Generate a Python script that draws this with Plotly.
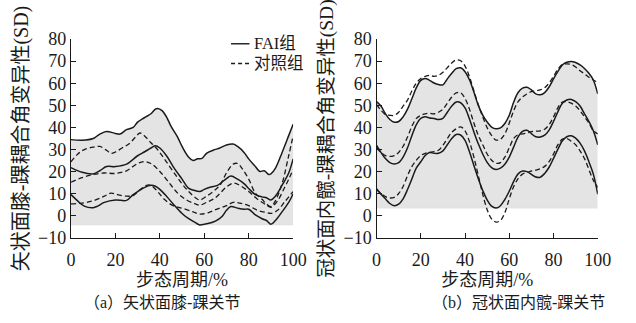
import plotly.graph_objects as go

# ---- (a) sagittal knee-ankle coupling angle variability ----
a_fai_up_x = [0, 5, 10, 13, 16, 20, 22, 25, 28, 30, 33, 36, 38, 39, 41, 43, 45, 48, 50, 53, 55, 57, 59,
              61, 64, 67, 70, 73, 75, 78, 80, 83, 85, 87, 89, 90, 92, 95, 98, 100]
a_fai_up_y = [34.5, 34.2, 35, 37, 38.2, 37.3, 37, 39, 40, 42.4, 44.4, 46.2, 48.3, 48.6, 47.6, 44.8, 40.6,
              35.6, 31.4, 26.5, 25, 25.8, 26, 28.3, 29.7, 30.7, 32.1, 32.5, 31.4, 28.6, 25.8, 22.3, 20.1,
              20.4, 18.7, 19, 21.5, 28.6, 36.3, 41.5]
a_fai_mid_x = [0, 5, 10, 13, 16, 20, 25, 30, 33, 36, 38, 40, 43, 46, 50, 53, 55, 58, 60, 63, 66, 70, 72,
               75, 78, 80, 83, 86, 88, 90, 92, 95, 98, 100]
a_fai_mid_y = [21.8, 19.7, 19, 20.4, 22.3, 22.3, 23.4, 27.2, 28.9, 30.7, 31.7, 30.7, 27.2, 22.3, 16.6,
               12.4, 11.7, 11, 12, 13.1, 13.8, 16.9, 18, 16.6, 14.5, 12.4, 9.6, 8.6, 8.2, 7.2, 8.9, 13.8,
               19.4, 25.8]
a_fai_lo_x = [0, 3, 6, 10, 12, 15, 20, 25, 28, 30, 33, 36, 38, 40, 43, 46, 50, 53, 56, 58, 60, 63, 65,
              68, 70, 72, 75, 78, 80, 83, 86, 88, 90, 92, 95, 98, 100]
a_fai_lo_y = [9.6, 6.8, 4.4, 3.7, 4.4, 6.1, 7.2, 7, 9.6, 11, 12.8, 13.8, 13.4, 12, 8.9, 5.4, 1.1, -1.3,
              -3.1, -4.1, -3.8, -3.1, -2.4, -0.3, 2.5, 4.2, 3.5, 3, 3, 0.4, -1.3, -2.1, -3.8, -2.1, 1.8,
              6.1, 9.9]
a_ctl_up_x = [0, 3, 6, 10, 13, 16, 18, 20, 23, 26, 29, 31, 33, 36, 39, 42, 46, 50, 53, 56, 58, 61, 64,
              67, 70, 73, 75, 77, 80, 83, 86, 88, 90, 92, 95, 98, 100]
a_ctl_up_y = [24.4, 27.9, 30, 31.1, 31.4, 29.7, 28.3, 28.9, 30.7, 32.5, 35.6, 37.5, 36.3, 33.1, 30,
              25.8, 20.1, 14.5, 11, 8.2, 7.2, 8.9, 11, 13.8, 19.4, 23.4, 23.7, 21.5, 16.6, 10.3, 7.5,
              5.4, 4.2, 6.8, 14.5, 27.2, 36.3]
a_ctl_mid_x = [0, 5, 10, 15, 20, 25, 30, 33, 36, 40, 44, 48, 52, 56, 58, 61, 65, 70, 73, 76, 80, 84,
               88, 90, 93, 96, 98, 100]
a_ctl_mid_y = [15.2, 17.3, 18.7, 19.4, 19.2, 20.4, 23.7, 24.6, 23.7, 20.1, 15.2, 10.3, 7.2, 5.4, 4.9,
               6.1, 8.2, 13.1, 14.8, 13.8, 11, 7.5, 4.9, 3.9, 6.8, 12.5, 16.5, 21]
a_ctl_lo_x = [0, 5, 10, 15, 18, 21, 25, 28, 31, 34, 36, 39, 42, 46, 50, 55, 58, 62, 66, 70, 73, 76, 80,
              84, 88, 90, 93, 96, 100]
a_ctl_lo_y = [5.4, 5.8, 6.8, 8.9, 10.3, 9.6, 8.9, 9.2, 11.7, 13.8, 13.8, 11, 7.5, 4.6, 3.5, 1.8, 0.8,
              1.5, 3.2, 4.6, 6.1, 5.8, 4.6, 2.5, 1.5, 1.1, 2.5, 6.1, 11]

# ---- (b) frontal hip-ankle coupling angle variability ----
b_x = list(range(0, 101, 2))
b_fai_up_y = [51.7, 49.7, 46.2, 43.6, 42.4, 42.7, 44.8, 48.3, 53.1, 58, 61.3, 62.2, 61.3, 60.1, 59.4,
              59.3, 62.0, 64.5, 66.6, 67.0, 65.2, 61.6, 56.0, 50.0, 45.6, 42.5, 40.2, 39.4, 39.8, 41.8,
              45.5, 51.5, 55.8, 57.8, 58.2, 57.0, 55.2, 54.8, 55.8, 58.3, 62.0, 65.4, 68.3, 69.5, 69.9,
              69.4, 68.3, 66.7, 64.5, 61.5, 55.2]
b_fai_mid_y = [31.9, 28.7, 25.9, 24.1, 23.5, 24.1, 26.6, 30.8, 36.4, 41.3, 44.1, 44.8, 44.3, 44.1, 43.6,
               44.1, 46.9, 49.7, 51.5, 51.2, 48.9, 43.8, 38.0, 32.6, 28.0, 24.2, 21.8, 21.0, 21.6, 23.4,
               26.6, 31.2, 35.7, 38.2, 38.7, 37.2, 35.8, 35.7, 36.5, 38.8, 42.7, 47.2, 51.0, 52.4, 52.7,
               51.7, 49.7, 46.2, 42.7, 38.5, 32.2]
b_fai_lo_y = [12.3, 9.8, 7.7, 5.6, 4.6, 5.3, 7.7, 11.9, 16.8, 21.7, 24.5, 27.3, 28.7, 28.3, 28.3, 29.4,
              32.2, 35, 36.8, 36.6, 34.2, 29.0, 22.8, 16.8, 11.5, 7.2, 4.4, 3.5, 4.6, 7.4, 11.2, 15.6,
              19.0, 20.3, 20.0, 18.8, 17.6, 17.5, 19.2, 22.0, 26.0, 30.2, 34.0, 35.8, 36.2, 35.2, 32.9,
              29.4, 24.5, 18.9, 9.8]
b_ctl_up_y = [50.3, 47.8, 45.9, 45.5, 45.5, 46.9, 49.7, 52.4, 56.6, 60.1, 62.2, 63.1, 63.6, 63.1, 63.6,
              65, 67.1, 69.2, 70.6, 70.2, 67.8, 62.9, 56.6, 50.3, 44.8, 39.9, 36.4, 34.3, 34.7, 37.1, 42,
              47.6, 51.7, 53.8, 55.2, 56.2, 56.6, 57, 58, 60.1, 63.1, 66.4, 68.5, 68.8, 68.5, 67.4, 65.7,
              64.3, 62.7, 61.5, 60.4]
b_ctl_mid_y = [30.8, 28.7, 27.3, 26.9, 27.3, 28.7, 31.5, 35.7, 40.6, 44.1, 45.5, 46.2, 46.4, 46.2, 46.9,
               48.3, 51, 53.8, 55.7, 55.7, 53.1, 48.3, 42, 36.4, 32.2, 28, 25.2, 23.8, 24.1, 26.6, 30.8,
               35, 36.7, 37.1, 37.5, 38.1, 38.3, 38.5, 39.2, 41.3, 44.8, 49, 51.5, 51.7, 51, 49.7, 47.6,
               44.8, 42, 38.5, 37.1]
b_ctl_lo_y = [11.9, 10.1, 8.7, 8.1, 8.4, 10.1, 13.3, 18.2, 22.4, 25.2, 27.3, 28.3, 28.7, 29.1, 29.7,
              31.9, 35, 37.8, 39.4, 40.3, 38.5, 33.6, 26.6, 18.2, 9.8, 2.8, -1.4, -2.8, -2.1, 1.4, 7.7,
              13.3, 16.8, 18.9, 19.6, 20.3, 20.7, 21.3, 22.4, 24.5, 28, 32.2, 34.7, 35, 33.8, 32.2, 29.4,
              25.9, 21, 16.1, 12.9]

x_ticks = [0, 20, 40, 60, 80, 100]
y_ticks = list(range(-10, 81, 10))
legend_names = ["FAI组", "对照组"]
y_titles = ["矢状面膝-踝耦合角变异性(SD)", "冠状面内髋-踝耦合角变异性(SD)"]
x_title = "步态周期/%"
captions = ["（a）矢状面膝-踝关节", "（b）冠状面内髋-踝关节"]

SERIF = "Liberation Serif, Noto Sans CJK SC"
INK = "#1a1a1a"
FILL = "#e4e4e4"

panels = [
    dict(up=(a_fai_up_x, a_fai_up_y), mid=(a_fai_mid_x, a_fai_mid_y), lo=(a_fai_lo_x, a_fai_lo_y),
         cup=(a_ctl_up_x, a_ctl_up_y), cmid=(a_ctl_mid_x, a_ctl_mid_y), clo=(a_ctl_lo_x, a_ctl_lo_y)),
    dict(up=(b_x, b_fai_up_y), mid=(b_x, b_fai_mid_y), lo=(b_x, b_fai_lo_y),
         cup=(b_x, b_ctl_up_y), cmid=(b_x, b_ctl_mid_y), clo=(b_x, b_ctl_lo_y)),
]

fig = go.Figure()
for i, p in enumerate(panels):
    xa = "x" if i == 0 else "x2"
    ya = "y" if i == 0 else "y2"
    base = min(p["lo"][1])
    ux, uy = p["up"]
    # shaded band: FAI upper bound down to the lowest FAI value
    fig.add_trace(go.Scatter(x=[ux[0], ux[-1]], y=[base, base], mode="lines",
                             line=dict(width=0.6, color="#dedede"), hoverinfo="skip",
                             showlegend=False, xaxis=xa, yaxis=ya))
    fig.add_trace(go.Scatter(x=ux, y=uy, mode="lines", line=dict(width=0, shape="spline"),
                             fill="tonexty", fillcolor=FILL, hoverinfo="skip",
                             showlegend=False, xaxis=xa, yaxis=ya))
    for key in ("cup", "cmid", "clo"):
        cx, cy = p[key]
        fig.add_trace(go.Scatter(x=cx, y=cy, mode="lines", name=legend_names[1],
                                 line=dict(color=INK, width=1.3, dash="5px,3px", shape="spline"),
                                 showlegend=False, xaxis=xa, yaxis=ya))
    for key in ("up", "mid", "lo"):
        sx, sy = p[key]
        fig.add_trace(go.Scatter(x=sx, y=sy, mode="lines", name=legend_names[0],
                                 line=dict(color=INK, width=1.5, shape="spline"),
                                 showlegend=False, xaxis=xa, yaxis=ya))

axis_common = dict(showline=True, linecolor=INK, linewidth=1.4, ticks="inside", ticklen=5,
                   tickwidth=1.2, tickcolor=INK, showgrid=False, zeroline=False,
                   tickfont=dict(family="Liberation Serif", size=18, color=INK))
x_domains = [[68 / 636, 297 / 636], [383 / 636, 611 / 636]]
y_domain = [80 / 323, 292 / 323]
y_title_sizes = [20, 19.5]

layout = dict(width=636, height=323, margin=dict(l=0, r=0, t=0, b=0),
              paper_bgcolor="white", plot_bgcolor="white", showlegend=False)
for i in range(2):
    sfx = "" if i == 0 else "2"
    layout["xaxis" + sfx] = dict(axis_common, domain=x_domains[i], range=[0, 100], tickvals=x_ticks,
                                 anchor="y" + sfx, ticklabelstandoff=5,
                                 title=dict(text=x_title, standoff=4,
                                            font=dict(family=SERIF, size=18, color=INK)))
    layout["yaxis" + sfx] = dict(axis_common, domain=y_domain, range=[-10, 80], tickvals=y_ticks,
                                 anchor="x" + sfx,
                                 title=dict(text=y_titles[i], standoff=4,
                                            font=dict(family=SERIF, size=y_title_sizes[i], color=INK)))
fig.update_layout(**layout)

# captions under each panel
for cx, text in zip([162 / 636, 529 / 636], captions):
    fig.add_annotation(x=cx, y=11 / 323, xref="paper", yref="paper", text=text, showarrow=False,
                       xanchor="center", yanchor="middle",
                       font=dict(family=SERIF, size=16, color=INK))

# legend drawn inside panel (a)
for row, (name, dash) in enumerate(zip(legend_names, ["solid", "4px,3px"])):
    yy = 1 - (36 + 21 * row) / 323
    fig.add_shape(type="line", xref="paper", yref="paper", x0=233 / 636, x1=252 / 636, y0=yy, y1=yy,
                  line=dict(color=INK, width=1.4, dash=dash))
    fig.add_annotation(x=255 / 636, y=yy, xref="paper", yref="paper", text=name, showarrow=False,
                       xanchor="left", yanchor="middle",
                       font=dict(family=SERIF, size=16.5, color=INK))

fig.write_html("out.html")
